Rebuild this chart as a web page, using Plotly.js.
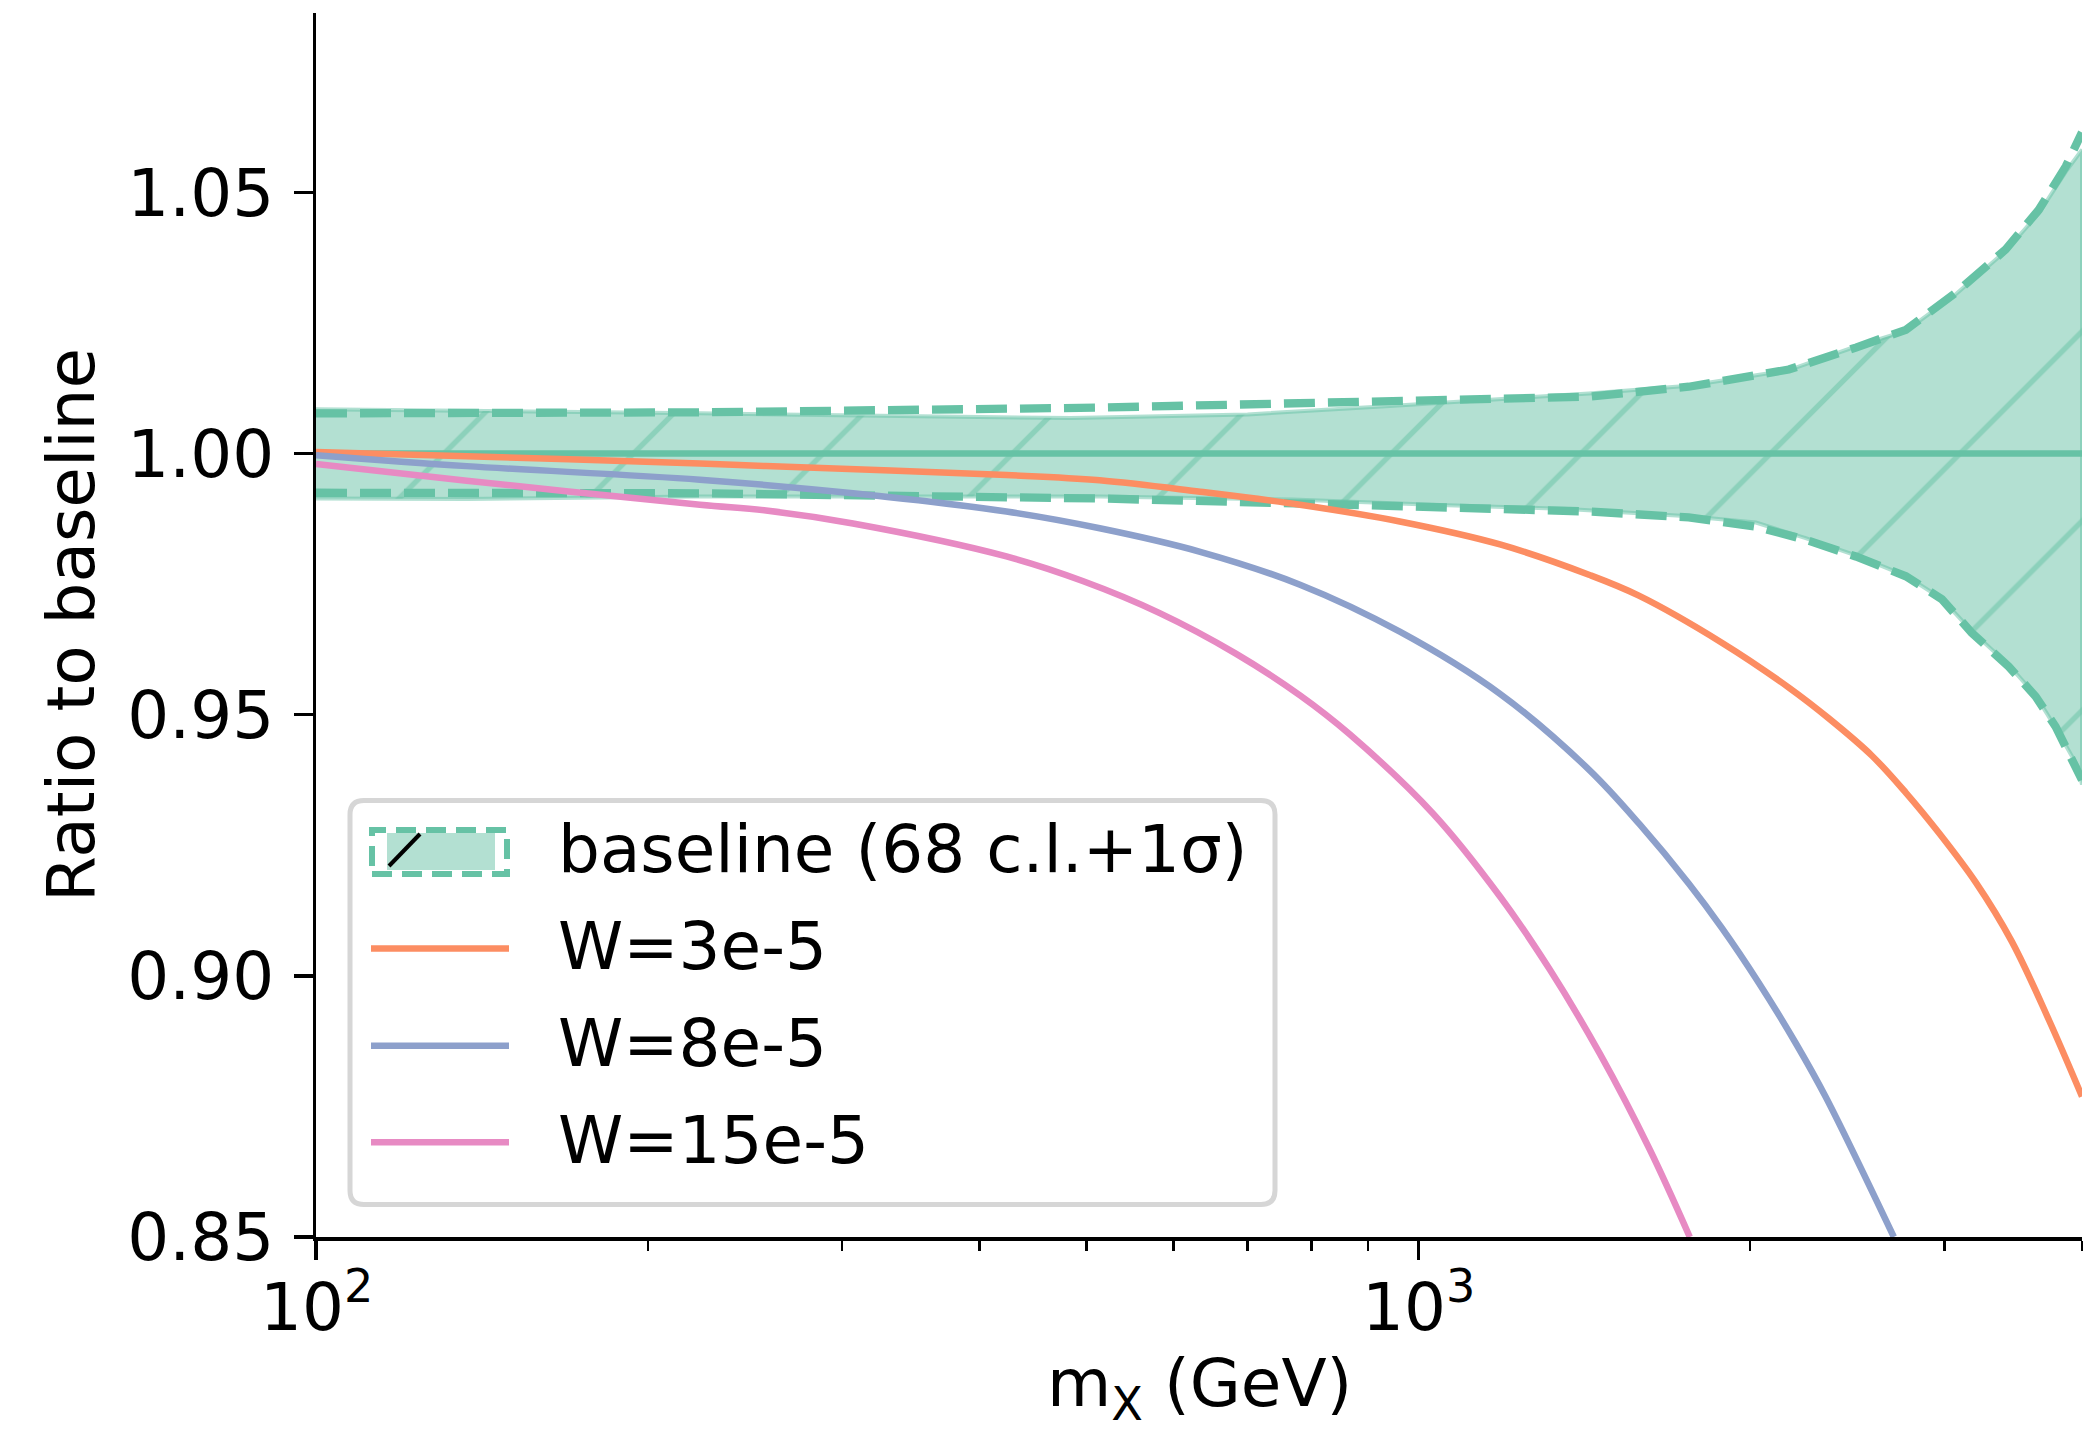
<!DOCTYPE html>
<html>
<head>
<meta charset="utf-8">
<script src="https://cdn.plot.ly/plotly-3.0.1.min.js"></script>
<style>
  html, body { margin: 0; padding: 0; background: #ffffff; }
  #chart { width: 2089px; height: 1432px; }
</style>
</head>
<body>
<div id="chart"></div>
<script>
// ---- data: ratio to baseline vs m_X (GeV) ----
// baseline band, 68% c.l. (filled, hatched)
const clUpperMass = [100, 137, 223, 484, 700, 942, 1428, 1759, 2168, 2494, 2769, 3073, 3411, 3655, 3867, 4000];
const clUpper     = [1.0085, 1.0082, 1.0077, 1.0068, 1.0075, 1.0091, 1.0115, 1.0130, 1.0160, 1.0205, 1.0235, 1.0305, 1.0388, 1.0460, 1.0540, 1.0582];
const clLowerMass = [100, 137, 223, 514, 769, 1030, 1365, 1759, 2024, 2246, 2494, 2769, 2985, 3177, 3433, 3631, 3786, 3972, 4000];
const clLower     = [0.9914, 0.9913, 0.9918, 0.9918, 0.9912, 0.9902, 0.9894, 0.9880, 0.9868, 0.9838, 0.9805, 0.9766, 0.9722, 0.9660, 0.9595, 0.9537, 0.9475, 0.9398, 0.9366];

// baseline band, 1 sigma (dashed)
const sigUpperMass = [100, 137, 223, 514, 867, 1428, 1759, 2168, 2494, 2769, 3073, 3411, 3655, 3867, 4000];
const sigUpper     = [1.0077, 1.0077, 1.0079, 1.0088, 1.0098, 1.0109, 1.0128, 1.0161, 1.0203, 1.0237, 1.0308, 1.0391, 1.0467, 1.0550, 1.0615];
const sigLowerMass = [100, 137, 223, 514, 781, 867, 1428, 1759, 2024, 2246, 2494, 2769, 2985, 3177, 3433, 3631, 3786, 3972, 4000];
const sigLower     = [0.9925, 0.9925, 0.9924, 0.9914, 0.9906, 0.9902, 0.9889, 0.9878, 0.9860, 0.9835, 0.9803, 0.9765, 0.9721, 0.9657, 0.9592, 0.9535, 0.9477, 0.9395, 0.9375];

// baseline central value
const baseMass  = [100, 4000];
const baseRatio = [1.0, 1.0];

// W = 3e-5
const w3Mass  = [100, 137, 223, 256, 423, 514, 634, 781, 962, 1186, 1428, 1585, 1885, 2168, 2357, 2578, 2768, 2966, 3204, 3454, 3732, 4000];
const w3Ratio = [1.0003, 0.9995, 0.9981, 0.9976, 0.9959, 0.9949, 0.9927, 0.9902, 0.9870, 0.9826, 0.9768, 0.9728, 0.9638, 0.9552, 0.9493, 0.9422, 0.9351, 0.9274, 0.9179, 0.9066, 0.8916, 0.8769];

// W = 8e-5
const w8Mass  = [100, 137, 223, 307, 423, 514, 634, 781, 962, 1186, 1428, 1588, 1759, 1885, 2036, 2200, 2342, 2700];
const w8Ratio = [0.9997, 0.9976, 0.9950, 0.9924, 0.9889, 0.9857, 0.9812, 0.9749, 0.9659, 0.9540, 0.9395, 0.9290, 0.9177, 0.9092, 0.8987, 0.8871, 0.8768, 0.8500];

// W = 15e-5
const w15Mass  = [100, 137, 223, 256, 307, 423, 496, 582, 683, 781, 867, 1031, 1186, 1316, 1461, 1622, 1763];
const w15Ratio = [0.9980, 0.9948, 0.9902, 0.9891, 0.9866, 0.9803, 0.9756, 0.9695, 0.9617, 0.9537, 0.9462, 0.9311, 0.9152, 0.9012, 0.8851, 0.8667, 0.8500];

// axis ticks
const xMajorVals  = [100, 1000];
const xMajorText  = ['10<sup>2</sup>', '10<sup>3</sup>'];
const xMinorVals  = [200, 300, 400, 500, 600, 700, 800, 900, 2000, 3000, 4000];
const yTickVals   = [0.85, 0.90, 0.95, 1.00, 1.05];
const yTickText   = ['0.85', '0.90', '0.95', '1.00', '1.05'];

// axis titles and legend labels
const xTitle = 'm<sub>X</sub> (GeV)';
const yTitle = 'Ratio to baseline';
const legendLabels = ['baseline (68 c.l.+1σ)', 'W=3e-5', 'W=8e-5', 'W=15e-5'];

// ---- styling ----
const GREEN = '#66c2a5', ORANGE = '#fc8d62', BLUE = '#8da0cb', PINK = '#e78ac3';
const FONT = 'DejaVu Sans';
const FS = 66;
const textFont = { family: FONT, size: FS, color: '#000000' };

const W = 2089, H = 1432;
const margin = { l: 316, r: 7, t: 13, b: 195, pad: 0 };
const plotW = W - margin.l - margin.r;
const plotH = H - margin.t - margin.b;
// pixel (from top-left of the page) -> paper fraction
const toPX = p => (p - margin.l) / plotW;
const toPY = p => (H - margin.b - p) / plotH;

// ---- traces ----
const bandX = clUpperMass.concat(clLowerMass.slice().reverse());
const bandY = clUpper.concat(clLower.slice().reverse());

const curveLine = c => ({ color: c, width: 6.5, shape: 'spline', smoothing: 1.0 });

const traces = [
  {
    x: bandX, y: bandY, type: 'scatter', mode: 'lines',
    fill: 'toself', fillcolor: '#b3e0d2',
    fillpattern: { shape: '/', size: 134, solidity: 0.04, fgcolor: '#8cd1bb', fgopacity: 1, bgcolor: '#b3e0d2' },
    line: { color: 'rgba(102,194,165,0.5)', width: 4 },
    hoverinfo: 'skip'
  },
  {
    x: baseMass, y: baseRatio, type: 'scatter', mode: 'lines',
    line: { color: GREEN, width: 6.5 }, hoverinfo: 'skip'
  },
  {
    x: sigUpperMass, y: sigUpper, type: 'scatter', mode: 'lines',
    line: { color: GREEN, width: 8.3, dash: '31px,13px' }, hoverinfo: 'skip'
  },
  {
    x: sigLowerMass, y: sigLower, type: 'scatter', mode: 'lines',
    line: { color: GREEN, width: 8.3, dash: '31px,13px' }, hoverinfo: 'skip'
  },
  { x: w3Mass,  y: w3Ratio,  type: 'scatter', mode: 'lines', name: legendLabels[1], line: curveLine(ORANGE) },
  { x: w8Mass,  y: w8Ratio,  type: 'scatter', mode: 'lines', name: legendLabels[2], line: curveLine(BLUE) },
  { x: w15Mass, y: w15Ratio, type: 'scatter', mode: 'lines', name: legendLabels[3], line: curveLine(PINK) }
];

// ---- hand-built legend (rounded frame, long handles) ----
const LEG = { x0: 350, y0: 800.5, x1: 1275, y1: 1204.5, r: 14,
              hx0: 371, hx1: 509, tx: 556, rows: [851, 948.6, 1045.7, 1142.3] };

function roundedRect(x0, y0, x1, y1, r) {
  const X = toPX, Y = toPY;
  return `M${X(x0 + r)},${Y(y0)} L${X(x1 - r)},${Y(y0)} Q${X(x1)},${Y(y0)} ${X(x1)},${Y(y0 + r)} ` +
         `L${X(x1)},${Y(y1 - r)} Q${X(x1)},${Y(y1)} ${X(x1 - r)},${Y(y1)} ` +
         `L${X(x0 + r)},${Y(y1)} Q${X(x0)},${Y(y1)} ${X(x0)},${Y(y1 - r)} ` +
         `L${X(x0)},${Y(y0 + r)} Q${X(x0)},${Y(y0)} ${X(x0 + r)},${Y(y0)} Z`;
}

const shapes = [
  { type: 'path', xref: 'paper', yref: 'paper', path: roundedRect(LEG.x0, LEG.y0, LEG.x1, LEG.y1, LEG.r),
    fillcolor: 'rgba(255,255,255,0.8)', line: { color: '#d6d6d6', width: 5 } },
  // baseline handle: filled patch, dashed outline, hatch stroke
  { type: 'rect', xref: 'paper', yref: 'paper',
    x0: toPX(387), x1: toPX(495), y0: toPY(870), y1: toPY(833),
    fillcolor: '#b3e0d2', line: { width: 0 } },
  { type: 'rect', xref: 'paper', yref: 'paper',
    x0: toPX(372), x1: toPX(507), y0: toPY(874), y1: toPY(830),
    fillcolor: 'rgba(0,0,0,0)', line: { color: GREEN, width: 6, dash: '20px,10px' } },
  { type: 'line', xref: 'paper', yref: 'paper',
    x0: toPX(389), y0: toPY(866), x1: toPX(420), y1: toPY(834),
    line: { color: '#000000', width: 4 } },
  // line handles
  ...[ORANGE, BLUE, PINK].map((c, i) => ({
    type: 'line', xref: 'paper', yref: 'paper',
    x0: toPX(LEG.hx0), x1: toPX(LEG.hx1), y0: toPY(LEG.rows[i + 1]), y1: toPY(LEG.rows[i + 1]),
    line: { color: c, width: 6.5 }
  }))
];

const legendTexts = legendLabels.map((t, i) => ({
  text: t, xref: 'paper', yref: 'paper',
  x: toPX(LEG.tx), y: toPY(LEG.rows[i] - 2), xanchor: 'left', yanchor: 'middle',
  showarrow: false, font: textFont
}));

// x tick labels (10^2, 10^3) placed on the log axis at the major tick positions
const xTickLabels = xMajorVals.map((v, i) => ({
  text: xMajorText[i], xref: 'x', yref: 'paper',
  x: Math.log10(v), y: toPY(1348), xanchor: 'center', yanchor: 'bottom',
  showarrow: false, font: textFont
}));

// x axis title below the tick labels
const xTitleAnn = {
  text: xTitle, xref: 'paper', yref: 'paper',
  x: 0.5, y: toPY(1388), xanchor: 'center', yanchor: 'middle',
  showarrow: false, font: textFont
};

const axisCommon = {
  showline: true, linecolor: '#000000', linewidth: 3.5,
  ticks: 'outside', ticklen: 19, tickwidth: 3.5, tickcolor: '#000000',
  showgrid: false, zeroline: false,
  tickfont: textFont
};

const layout = {
  width: W, height: H, margin: margin,
  paper_bgcolor: '#ffffff', plot_bgcolor: '#ffffff',
  showlegend: false,
  font: textFont,
  xaxis: Object.assign({}, axisCommon, {
    type: 'log', range: [2, Math.log10(4000)],
    tickmode: 'array', tickvals: xMajorVals, ticktext: xMajorText,
    showticklabels: false,
    minor: { ticks: 'outside', ticklen: 10, tickwidth: 2.6, tickcolor: '#000000',
             tickmode: 'array', tickvals: xMinorVals, showgrid: false }
  }),
  yaxis: Object.assign({}, axisCommon, {
    range: [0.85, 1.08436],
    tickmode: 'array', tickvals: yTickVals, ticktext: yTickText,
    ticklabelstandoff: 6,
    title: { text: yTitle, font: textFont, standoff: 12 }
  }),
  shapes: shapes,
  annotations: legendTexts.concat(xTickLabels, [xTitleAnn])
};

Plotly.newPlot('chart', traces, layout, { staticPlot: true, displayModeBar: false });
</script>
</body>
</html>
